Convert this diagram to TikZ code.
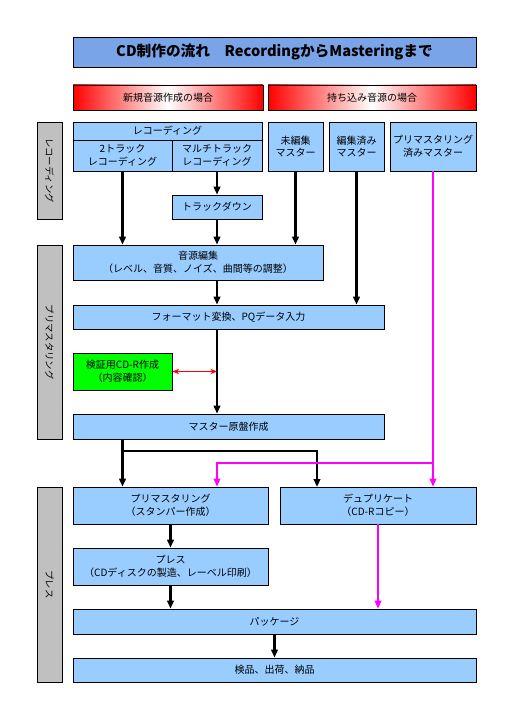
\documentclass[tikz,border=0pt]{standalone}
\usepackage{fontspec}
\setmainfont{Noto Sans CJK JP}
\usetikzlibrary{arrows.meta,positioning,calc}
\definecolor{boxblue}{HTML}{99CCFF}
\definecolor{sidegray}{HTML}{C0C0C0}
\definecolor{checkgreen}{HTML}{00FF00}
\definecolor{pinkline}{HTML}{FF00FF}
\definecolor{water}{HTML}{7AA4E8}
\newcommand{\boxfont}{\fontsize{7.5pt}{9.5pt}\selectfont}

\begin{document}
\begin{tikzpicture}[x=0.75pt, y=-0.75pt,
    box/.style={draw, fill=boxblue, line width=0.6pt, inner sep=0pt, align=center, font=\boxfont},
    wh/.style 2 args={minimum width=#1*0.75pt, minimum height=#2*0.75pt},
    side/.style={box, fill=sidegray, rotate=-90, font=\fontsize{7pt}{8pt}\selectfont},
    case/.style={box, left color=red, right color=red, middle color=white},
    flow/.style={line width=1.6pt, -{Triangle[length=6pt,width=5pt]}},
    pinkflow/.style={flow, draw=pinkline, line width=1.2pt},
    both/.style={red, line width=0.7pt, {Stealth[length=5pt,width=4pt]}-{Stealth[length=5pt,width=4pt]}}]
  \useasboundingbox (0,0) rectangle (512,724);
  % title and the two cases
  \node[box, fill=water, wh={403}{30}, font=\bfseries\fontsize{11pt}{13pt}\selectfont] (title) at (274.5,52)
    {CD制作の流れ　RecordingからMasteringまで};
  \node[case, wh={190}{25}] (newsrc) at (168,97.5) {新規音源作成の場合};
  \node[case, wh={208}{25}] (ownsrc) at (372,97.5) {持ち込み音源の場合};
  % recording
  \node[side, wh={97}{25}] (siderec) at (49.5,170.5) {レコーディング};
  \node[box, wh={189}{18}] (rec) at (167.5,131) {レコーディング};
  \node[box, wh={99}{31}] (twotrack) at (122.5,155.5) {2トラック\\レコーディング};
  \node[box, wh={90}{31}] (multi) at (217,155.5) {マルチトラック\\レコーディング};
  \node[box, wh={55}{49}] (unedited) at (295.5,146.5) {未編集\\マスター};
  \node[box, wh={55}{49}] (edited) at (356.5,146.5) {編集済み\\マスター};
  \node[box, wh={86}{49}] (premastered) at (433,146.5) {プリマスタリング\\済みマスター};
  \node[box, wh={90}{24}] (trackdown) at (217,207) {トラックダウン};
  % premastering
  \node[side, wh={194}{25}] (sidepre) at (49.5,342) {プリマスタリング};
  \node[box, wh={250}{35}] (edit) at (198,262.5) {音源編集\\（レベル、音質、ノイズ、曲間等の調整）};
  \node[box, wh={311}{24}] (format) at (228.5,317) {フォーマット変換、PQデータ入力};
  \node[box, fill=checkgreen, wh={99}{37}] (check) at (122.5,371.5) {検証用CD-R作成\\（内容確認）};
  \node[box, wh={311}{25}] (master) at (228.5,426.5) {マスター原盤作成};
  % press
  \node[side, wh={195}{25}] (sidepress) at (49.5,584.5) {プレス};
  \node[box, wh={195}{37}] (stamper) at (170.5,505.5) {プリマスタリング\\（スタンパー作成）};
  \node[box, wh={196}{37}] (dup) at (378,505.5) {デュプリケート\\（CD-Rコピー）};
  \node[box, wh={195}{37}] (press) at (170.5,566.5) {プレス\\（CDディスクの製造、レーベル印刷）};
  \node[box, wh={403}{25}] (package) at (274.5,621.5) {パッケージ};
  \node[box, wh={403}{24}] (ship) at (274.5,670) {検品、出荷、納品};
  \coordinate (split) at (123,451);
  \coordinate (dupin) at (317,487);
  \coordinate (pinksplit) at (433,463);

  \draw[flow] (twotrack) -- (edit.north -| twotrack);
  \draw[flow] (multi) -- (trackdown);
  \draw[flow] (trackdown) -- (edit.north -| trackdown);
  \draw[flow] (unedited) -- (edit.north -| unedited);
  \draw[flow] (edited) -- (format.north -| edited);
  \draw[flow] (edit.south -| trackdown) -- (format.north -| trackdown);
  \draw[flow] (format.south -| trackdown) -- (master.north -| trackdown);
  \draw[both] (check) -- (check -| trackdown);
  \draw[flow] (master.south -| twotrack) -- (stamper.north -| twotrack);
  \draw[flow] (split) -| (dupin);
  \draw[pinkflow] (premastered) -- (dup.north -| premastered);
  \draw[pinkflow] (pinksplit) -| (stamper.north -| trackdown);
  \draw[pinkflow] (dup) -- (package.north -| dup);
  \draw[flow] (stamper) -- (press);
  \draw[flow] (press) -- (package.north -| press);
  \draw[flow] (package) -- (ship);
\end{tikzpicture}
\end{document}
